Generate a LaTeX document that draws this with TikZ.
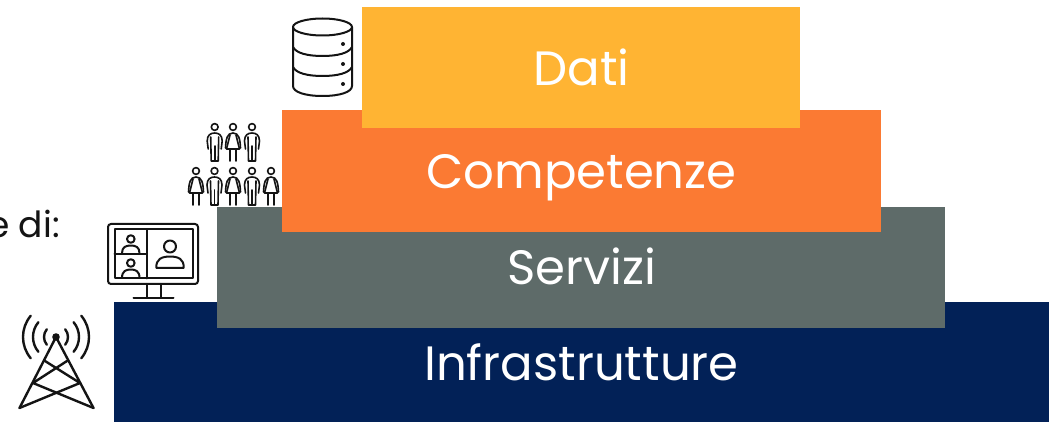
\documentclass[tikz,border=0pt]{standalone}
\usepackage{fontspec}
\setmainfont{Poppins}
\definecolor{cdati}{HTML}{FFB433}
\definecolor{ccomp}{HTML}{FB7A33}
\definecolor{cserv}{HTML}{5E6B69}
\definecolor{cinfr}{HTML}{022157}
\definecolor{cink}{HTML}{141414}
\tikzset{
  layertext/.style={text=white,anchor=base,inner sep=0pt,font=\fontsize{48.2}{50}\selectfont},
  icon/.style={draw=cink,line width=2pt,fill=none,line join=round,line cap=round},
  tower icon/.style={draw=cink,line width=2.4pt,fill=none,line join=round,line cap=round},
  thin icon/.style={draw=cink,line width=1.6pt,fill=none,line join=round,line cap=round},
  pics/manicon/.style={code={
    \draw[thin icon] (0,-34) circle (3.4);
    \draw[thin icon] (-6.5,-12) -- (-7.5,-20) .. controls (-7.5,-26) and (-4,-28) .. (0,-28) .. controls (4,-28) and (7.5,-26) .. (7.5,-20) -- (6.5,-12);
    \draw[thin icon] (-4,-24) -- (-3.5,0) -- (3.5,0) -- (4,-24);
    \draw[thin icon] (0,-15) -- (0,0);
  }},
  pics/womanicon/.style={code={
    \draw[thin icon] (0,-34) circle (3.4);
    \draw[thin icon] (-7.5,-13) .. controls (-7,-22) and (-6,-28) .. (0,-28) .. controls (6,-28) and (7,-22) .. (7.5,-13);
    \draw[thin icon] (-3,-26) -- (-6.5,-12) -- (6.5,-12) -- (3,-26);
    \draw[thin icon] (-3,-12) -- (-3,0) (3,-12) -- (3,0);
  }},
}
\begin{document}
\begin{tikzpicture}[x=1pt,y=-1pt]
\useasboundingbox (0,0) rectangle (1053,422);
\fill[white] (0,0) rectangle (1053,422);
% layers, bottom first
\fill[cinfr] (114,302) rectangle (1049,422);
\fill[cserv] (217,207) rectangle (945,328);
\fill[ccomp] (282,110) rectangle (881,232);
\fill[cdati] (362,7) rectangle (800,128);
\node[layertext] (dati) at (581.5,86) {Dati};
\node[layertext] (comp) at (581.5,189) {Competenze};
\node[layertext] (serv) at (581.5,285) {Servizi};
\node[layertext] (infr) at (581.5,381) {Infrastrutture};
\node[anchor=base east,inner sep=0pt,text=cink,font=\fontsize{36}{38}\selectfont] (frag) at (60,238) {e di:};
% database
\draw[icon] (322.5,27) ellipse (29.5 and 8.5);
\draw[icon] (293,27) -- (293,86) .. controls (293,92) and (305,96) .. (322.5,96) .. controls (340,96) and (352,92) .. (352,86) -- (352,27);
\draw[icon] (293,47) .. controls (296,53) and (307,56) .. (322.5,56) .. controls (338,56) and (349,53) .. (352,47);
\draw[icon] (293,67) .. controls (296,73) and (307,76) .. (322.5,76) .. controls (338,76) and (349,73) .. (352,67);
\fill[cink] (343,44) circle (2) (343,64) circle (2) (343,84) circle (2);
% people
\pic at (214.7,161) {manicon};
\pic at (233,161) {womanicon};
\pic at (252,161) {manicon};
\pic at (196,205) {womanicon};
\pic at (214.5,205) {manicon};
\pic at (233,205) {womanicon};
\pic at (252,205) {manicon};
\pic at (271,205) {womanicon};
% monitor
\draw[icon,rounded corners=3pt] (108,224) rectangle (198,284);
\draw[icon] (114.5,229.5) rectangle (192.5,278.5);
\draw[icon] (147,229.5) -- (147,278.5) (114.5,254) -- (147,254);
\draw[icon] (146.5,284) -- (146.5,297) (161,284) -- (161,297) (133.5,298) -- (173.5,298);
\draw[icon] (130.8,239) circle (3.8);
\draw[icon] (122,253) .. controls (122,247) and (126,245.5) .. (130.8,245.5) .. controls (135.5,245.5) and (139.5,247) .. (139.5,253);
\draw[icon] (130.8,263) circle (3.8);
\draw[icon] (122,278) .. controls (122,271) and (126,269.5) .. (130.8,269.5) .. controls (135.5,269.5) and (139.5,271) .. (139.5,278);
\draw[icon] (170,246.5) circle (6);
\draw[icon] (156.5,268) .. controls (155.5,259) and (162,256.5) .. (170,256.5) .. controls (178,256.5) and (184.5,259) .. (183.5,268) -- cycle;
% tower
\fill[cink] (56,337) circle (3.8);
\draw[tower icon] (19.5,408) -- (56,337) -- (93.5,408);
\draw[tower icon] (45,361) -- (80,383) -- (19.5,408);
\draw[tower icon] (67,361) -- (33,383) -- (93.5,408);
\foreach \r in {12,23,33}{
  \draw[tower icon] (56,337) ++(140:\r) arc[start angle=140,end angle=220,radius=\r];
  \draw[tower icon] (56,337) ++(40:\r) arc[start angle=40,end angle=-40,radius=\r];
}
\end{tikzpicture}
\end{document}
